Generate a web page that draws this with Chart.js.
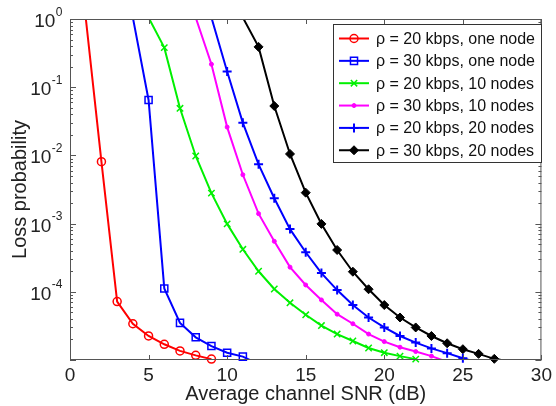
<!doctype html>
<html lang="en">
<head>
<meta charset="utf-8">
<title>Loss probability vs average channel SNR</title>
<style>
  * { margin: 0; padding: 0; }
  body { background: #fff; }
</style>
</head>
<body>
<canvas id="lossChart" width="556" height="406"></canvas>
<script src="https://cdn.jsdelivr.net/npm/chart.js"></script>
<script>
// average channel SNR (dB), one column per value in the series below
const snrDb = [1, 2, 3, 4, 5, 6, 7, 8, 9, 10, 11, 12, 13, 14, 15, 16, 17, 18, 19, 20, 21, 22, 23, 24, 25, 26, 27, 28];

// loss probability (null = not plotted)
const loss20One = [1.05, 8.1e-3, 7.2e-5, 3.4e-5, 2.25e-5, 1.7e-5, 1.36e-5, 1.17e-5, 1.03e-5,
  null, null, null, null, null, null, null, null, null, null, null, null, null, null, null, null, null, null, null];
const loss30One = [null, null, null, 1.05, 0.065, 1.12e-4, 3.5e-5, 2.15e-5, 1.6e-5, 1.28e-5, 1.12e-5, 0.87e-5,
  null, null, null, null, null, null, null, null, null, null, null, null, null, null, null, null];
const loss20Ten = [null, null, null, null, 1.05, 0.38, 0.049, 9.8e-3, 2.8e-3, 9.9e-4, 4.2e-4, 2.0e-4, 1.1e-4, 6.9e-5,
  4.6e-5, 3.2e-5, 2.4e-5, 1.9e-5, 1.5e-5, 1.28e-5, 1.14e-5, 1.03e-5, null, null, null, null, null, null];
const loss30Ten = [null, null, null, null, null, null, null, 1.05, 0.217, 0.026, 5.2e-3, 1.4e-3, 5.5e-4, 2.3e-4,
  1.26e-4, 7.6e-5, 4.7e-5, 3.4e-5, 2.4e-5, 1.86e-5, 1.54e-5, 1.33e-5, 1.14e-5, 0.94e-5, null, null, null, null];
const loss20Twenty = [null, null, null, null, null, null, null, null, 1.05, 0.17, 0.030, 7.4e-3, 2.35e-3, 8.3e-4,
  3.8e-4, 1.88e-4, 1.06e-4, 6.4e-5, 4.2e-5, 3.0e-5, 2.25e-5, 1.8e-5, 1.48e-5, 1.26e-5, 1.06e-5, 0.91e-5, null, null];
const loss30Twenty = [null, null, null, null, null, null, null, null, null, null, 1.05, 0.39, 0.053, 0.0105,
  2.84e-3, 9.9e-4, 4.1e-4, 1.97e-4, 1.09e-4, 6.4e-5, 4.2e-5, 3.0e-5, 2.25e-5, 1.76e-5, 1.44e-5, 1.23e-5, 1.04e-5, 0.95e-5];

const seriesLabels = [
  'ρ = 20 kbps, one node',
  'ρ = 30 kbps, one node',
  'ρ = 20 kbps, 10 nodes',
  'ρ = 30 kbps, 10 nodes',
  'ρ = 20 kbps, 20 nodes',
  'ρ = 30 kbps, 20 nodes'
];
const seriesValues = [loss20One, loss30One, loss20Ten, loss30Ten, loss20Twenty, loss30Twenty];

const xTicks = [0, 5, 10, 15, 20, 25, 30];
const yTicks = [1e-4, 1e-3, 1e-2, 1e-1, 1];
const yMin = 1e-5, yMax = 1;

// marker styles (matlab o, s, x, ., +, d)
const styles = [
  { color: '#ff0000', pointStyle: 'circle',   radius: 4,   bw: 1.5, fill: 'rgba(0,0,0,0)' },
  { color: '#0000ff', pointStyle: 'rect',     radius: 5,   bw: 1.5, fill: 'rgba(0,0,0,0)' },
  { color: '#00f000', pointStyle: 'crossRot', radius: 4.5, bw: 1.5, fill: '#00f000' },
  { color: '#ff00ff', pointStyle: 'circle',   radius: 2,   bw: 1,   fill: '#ff00ff' },
  { color: '#0000ff', pointStyle: 'cross',    radius: 4.5, bw: 2,   fill: '#0000ff' },
  { color: '#000000', pointStyle: 'rectRot',  radius: 4.5, bw: 1,   fill: '#000000' }
];

const FONT = '"Liberation Sans", Arial, sans-serif';

function toPoints(vals) {
  return snrDb.map((x, i) => ({ x: x, y: vals[i] })).filter(p => p.y !== null);
}

const datasets = [];
// lines first (clipped to the axes box)
seriesValues.forEach((vals, i) => {
  datasets.push({
    label: seriesLabels[i],
    data: toPoints(vals),
    borderColor: styles[i].color,
    borderWidth: 2,
    pointRadius: 0,
    pointHoverRadius: 0,
    tension: 0,
    clip: 0
  });
});
// markers, not clipped, hidden outside the y range
seriesValues.forEach((vals, i) => {
  const s = styles[i];
  datasets.push({
    label: seriesLabels[i] + ' markers',
    data: toPoints(vals),
    showLine: false,
    pointStyle: s.pointStyle,
    pointRadius: ctx => {
      const v = ctx.raw ? ctx.raw.y : null;
      return (v === null || v < yMin * 0.999 || v > yMax) ? 0 : s.radius;
    },
    pointHoverRadius: 0,
    pointBorderColor: s.color,
    pointBackgroundColor: s.fill,
    pointBorderWidth: s.bw,
    clip: false
  });
});

// box, inward ticks, 10^n labels and the legend
const matlabAxes = {
  id: 'matlabAxes',
  afterDatasetsDraw(chart) {
    const { ctx, chartArea: a, scales: { x, y } } = chart;
    ctx.save();
    ctx.strokeStyle = '#555';
    ctx.lineWidth = 1;
    ctx.strokeRect(a.left + 0.5, a.top + 0.5, a.right - a.left - 1, a.bottom - a.top - 1);

    ctx.beginPath();
    xTicks.forEach(v => {
      const px = Math.round(x.getPixelForValue(v)) + 0.5;
      ctx.moveTo(px, a.bottom); ctx.lineTo(px, a.bottom - 5);
      ctx.moveTo(px, a.top); ctx.lineTo(px, a.top + 5);
    });
    for (let e = -5; e <= 0; e++) {
      for (let m = 1; m <= 9; m++) {
        const v = m * Math.pow(10, e);
        if (v < yMin || v > yMax) continue;
        const py = Math.round(y.getPixelForValue(v)) + 0.5;
        const len = m === 1 ? 6 : 3;
        ctx.moveTo(a.left, py); ctx.lineTo(a.left + len, py);
        ctx.moveTo(a.right, py); ctx.lineTo(a.right - len, py);
      }
    }
    ctx.stroke();

    ctx.fillStyle = '#222';
    ctx.textAlign = 'right';
    ctx.textBaseline = 'alphabetic';
    yTicks.forEach(v => {
      const py = y.getPixelForValue(v);
      const exp = String(Math.round(Math.log10(v)));
      ctx.font = '12px ' + FONT;
      const ew = ctx.measureText(exp).width;
      const right = a.left - 7.5;
      ctx.fillText(exp, right, py - 3.5);
      ctx.font = '19px ' + FONT;
      ctx.fillText('10', right - ew - 0.5, py + 8);
    });
    ctx.restore();
  },
  afterDraw(chart) {
    const { ctx } = chart;
    const box = { left: 333, top: 24, width: 208, height: 138 };
    ctx.save();
    ctx.fillStyle = '#fff';
    ctx.fillRect(box.left, box.top, box.width, box.height);
    ctx.strokeStyle = '#333';
    ctx.lineWidth = 1;
    ctx.strokeRect(box.left + 0.5, box.top + 0.5, box.width, box.height);
    seriesLabels.forEach((label, i) => {
      const s = styles[i];
      const ry = box.top + 14.5 + i * 22.35;
      ctx.strokeStyle = s.color;
      ctx.lineWidth = 2;
      ctx.beginPath();
      ctx.moveTo(box.left + 6, ry); ctx.lineTo(box.left + 36, ry);
      ctx.stroke();
      ctx.fillStyle = s.fill;
      ctx.lineWidth = s.bw;
      Chart.helpers.drawPoint(ctx, { pointStyle: s.pointStyle, radius: s.radius, borderWidth: s.bw, rotation: 0 }, box.left + 21, ry);
      ctx.fillStyle = '#111';
      ctx.font = '16px ' + FONT;
      ctx.textAlign = 'left';
      ctx.textBaseline = 'middle';
      ctx.fillText(label, box.left + 43, ry + 1);
    });
    ctx.restore();
  }
};

const config = {
  type: 'line',
  data: { datasets },
  options: {
    responsive: false,
    animation: false,
    events: [],
    layout: { padding: { top: 19, right: 10, left: 0, bottom: 0 } },
    plugins: {
      legend: { display: false },
      tooltip: { enabled: false }
    },
    scales: {
      x: {
        type: 'linear',
        min: 0,
        max: 30,
        grid: { display: false, drawTicks: false },
        border: { display: false },
        afterBuildTicks: scale => { scale.ticks = xTicks.map(v => ({ value: v })); },
        afterFit: scale => { scale.height = 46; },
        ticks: { color: '#222', padding: 4, font: { family: FONT, size: 19 }, maxRotation: 0 },
        title: {
          display: true,
          text: 'Average channel SNR (dB)',
          color: '#222',
          padding: { top: 0, bottom: 0 },
          font: { family: FONT, size: 20 }
        }
      },
      y: {
        type: 'logarithmic',
        min: yMin,
        max: yMax,
        grid: { display: false, drawTicks: false },
        border: { display: false },
        afterBuildTicks: scale => { scale.ticks = yTicks.map(v => ({ value: v })); },
        afterFit: scale => { scale.width = 70; },
        ticks: { display: false },
        title: {
          display: true,
          text: 'Loss probability',
          color: '#222',
          padding: { top: 8, bottom: 0 },
          font: { family: FONT, size: 20 }
        }
      }
    }
  },
  plugins: [matlabAxes]
};

const lossChart = new Chart(document.getElementById('lossChart'), config);
</script>
</body>
</html>
